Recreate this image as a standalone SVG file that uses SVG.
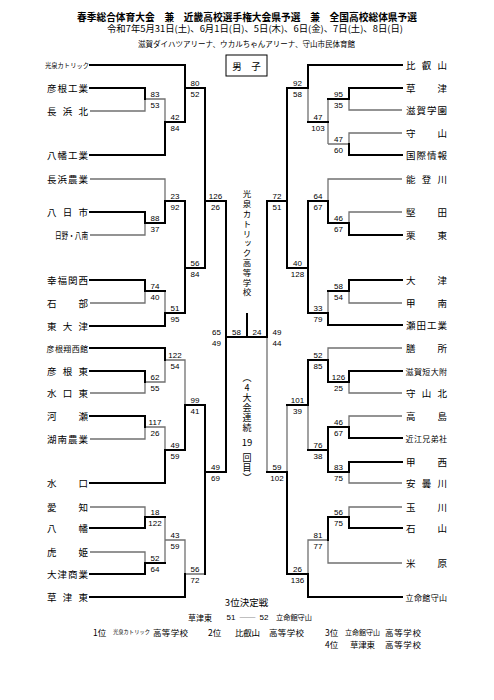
<svg xmlns="http://www.w3.org/2000/svg" width="494" height="700" viewBox="0 0 494 700">
<style>
text{font-family:"Noto Sans CJK JP","Noto Sans CJK SC",sans-serif;fill:#000}
.tn{font-size:9.5px;dominant-baseline:central}
.sm{font-size:8px;dominant-baseline:central}
.n{font-family:"Liberation Sans",Arial,sans-serif;font-size:8px;text-anchor:middle}
.w{stroke:#000;stroke-width:2;fill:none;stroke-linecap:square}
.l{stroke:#707070;stroke-width:1.3;fill:none}
.v{writing-mode:vertical-rl}
.r{font-size:8.5px;dominant-baseline:central}
</style>
<rect width="494" height="700" fill="#fff"/>
<g id="header">
<text x="247" y="16" font-size="10.5" font-weight="bold" text-anchor="middle" dominant-baseline="central" textLength="340" lengthAdjust="spacingAndGlyphs">春季総合体育大会　兼　近畿高校選手権大会県予選　兼　全国高校総体県予選</text>
<text x="255" y="28.5" font-size="9" text-anchor="middle" dominant-baseline="central" textLength="296" lengthAdjust="spacingAndGlyphs">令和7年5月31日(土)、6月1日(日)、5日(木)、6日(金)、7日(土)、8日(日)</text>
<text x="246.5" y="43.5" font-size="7.5" text-anchor="middle" dominant-baseline="central" textLength="217" lengthAdjust="spacingAndGlyphs">滋賀ダイハツアリーナ、ウカルちゃんアリーナ、守山市民体育館</text>
</g>
<g id="title-box">
<rect x="226" y="55" width="41" height="21" fill="none" stroke="#000" stroke-width="1"/>
<text x="246.5" y="65.5" font-size="9.5" text-anchor="middle" dominant-baseline="central">男　子</text>
</g>
<g id="connectors">
<path class="l" d="M90 111H145V99H165V122M90 179H165V201M90 235H145V223M90 303H145V291M165 291V313M90 393H145V382H165V360H185V405M90 439H145V427H165V450M90 507H145V517M165 517V563M90 552H145V563M165 540H185V574H205"/>
<path class="l" d="M402 110H349V99M328 99V144M402 133H349V144H328M308 122V88M402 179H328V201M402 212H349V223M402 303H349V291M328 291V313M402 348H328V360M402 393H349V382M402 416H349V427M402 483H349V472M308 405V450M287 405V472M267 337V472M402 507H349V517M402 563H328V540H308V574"/>
<path class="w" d="M90 65H185V88H205V268M90 88H145V99M90 155H165V122H185V88M90 212H145V223H165V201H185V268M90 280H145V291H165M90 326H165V313H185V268H205M205 201H226V472M90 348H165V360M90 371H145V382M185 405H205V574M90 416H145V427M90 483H165V450H185V405M205 472H226M90 528H145V517H165M90 574H145V563H165M90 597H185V574"/>
<path class="w" d="M402 65H308V88H287V268M402 88H349V99H328M402 155H349V144M328 122H308M402 235H349V223H328V201H308V313H328V325H402M402 280H349V291H328M308 268H287M287 201H267V337M328 360H308V405H287M402 371H349V382H328V360M402 438H349V427H328V472H349V462H402M328 450H308M287 472H267M402 528H349V517H328V540M402 597H308V574H287V472"/>
<path class="w" d="M226 337H267M247 314V337"/>
</g>
<g id="scores">
<text class="n" x="155" y="97">83</text><text class="n" x="155" y="107.5">53</text>
<text class="n" x="175" y="120">42</text><text class="n" x="175" y="130.5">84</text>
<text class="n" x="195" y="86">80</text><text class="n" x="195" y="96.5">52</text>
<text class="n" x="155" y="221">88</text><text class="n" x="155" y="231.5">37</text>
<text class="n" x="175" y="199">23</text><text class="n" x="175" y="209.5">92</text>
<text class="n" x="155" y="289">74</text><text class="n" x="155" y="299.5">40</text>
<text class="n" x="175" y="311">51</text><text class="n" x="175" y="321.5">95</text>
<text class="n" x="195" y="266">56</text><text class="n" x="195" y="276.5">84</text>
<text class="n" x="215.5" y="199">126</text><text class="n" x="215.5" y="209.5">26</text>
<text class="n" x="155" y="380">62</text><text class="n" x="155" y="390.5">55</text>
<text class="n" x="175" y="358">122</text><text class="n" x="175" y="368.5">54</text>
<text class="n" x="155" y="425">117</text><text class="n" x="155" y="435.5">26</text>
<text class="n" x="175" y="448">49</text><text class="n" x="175" y="458.5">59</text>
<text class="n" x="195" y="403">99</text><text class="n" x="195" y="413.5">41</text>
<text class="n" x="155" y="515">18</text><text class="n" x="155" y="525.5">122</text>
<text class="n" x="155" y="561">52</text><text class="n" x="155" y="571.5">64</text>
<text class="n" x="175" y="538">43</text><text class="n" x="175" y="548.5">59</text>
<text class="n" x="195" y="572">56</text><text class="n" x="195" y="582.5">72</text>
<text class="n" x="215.5" y="470">49</text><text class="n" x="215.5" y="480.5">69</text>
<text class="n" x="216.5" y="335">65</text><text class="n" x="216.5" y="345.5">49</text>
<text class="n" x="236.5" y="335">58</text><text class="n" x="257" y="335">24</text>
<text class="n" x="277" y="335">49</text><text class="n" x="277" y="345.5">44</text>
<text class="n" x="338.5" y="97">95</text><text class="n" x="338.5" y="107.5">35</text>
<text class="n" x="338.5" y="142">47</text><text class="n" x="338.5" y="152.5">60</text>
<text class="n" x="318" y="120">47</text><text class="n" x="318" y="130.5">103</text>
<text class="n" x="297.5" y="86">92</text><text class="n" x="297.5" y="96.5">58</text>
<text class="n" x="318" y="199">64</text><text class="n" x="318" y="209.5">67</text>
<text class="n" x="338.5" y="221">46</text><text class="n" x="338.5" y="231.5">67</text>
<text class="n" x="338.5" y="289">58</text><text class="n" x="338.5" y="299.5">54</text>
<text class="n" x="318" y="311">33</text><text class="n" x="318" y="321.5">79</text>
<text class="n" x="297.5" y="266">40</text><text class="n" x="297.5" y="276.5">128</text>
<text class="n" x="277" y="199">72</text><text class="n" x="277" y="209.5">51</text>
<text class="n" x="318" y="358">52</text><text class="n" x="318" y="368.5">85</text>
<text class="n" x="338.5" y="380">126</text><text class="n" x="338.5" y="390.5">25</text>
<text class="n" x="338.5" y="425">46</text><text class="n" x="338.5" y="435.5">67</text>
<text class="n" x="318" y="448">76</text><text class="n" x="318" y="458.5">38</text>
<text class="n" x="338.5" y="470">83</text><text class="n" x="338.5" y="480.5">75</text>
<text class="n" x="297.5" y="403">101</text><text class="n" x="297.5" y="413.5">39</text>
<text class="n" x="277" y="470">59</text><text class="n" x="277" y="480.5">102</text>
<text class="n" x="338.5" y="515">56</text><text class="n" x="338.5" y="525.5">75</text>
<text class="n" x="318" y="538">81</text><text class="n" x="318" y="548.5">77</text>
<text class="n" x="297.5" y="572">26</text><text class="n" x="297.5" y="582.5">136</text>
</g>
<g id="left-teams">
<g id="t-kosen"><text x="45" y="65" font-size="6.3" dominant-baseline="central" textLength="44" lengthAdjust="spacingAndGlyphs">光泉カトリック</text></g>
<g id="t-hikonekogyo"><text class="tn" x="47" y="88" textLength="41">彦根工業</text></g>
<g id="t-nagahamakita"><text class="tn" x="47" y="111" textLength="41">長浜北</text></g>
<g id="t-hachimankogyo"><text class="tn" x="47" y="155" textLength="41">八幡工業</text></g>
<g id="t-nagahamanogyo"><text class="tn" x="47" y="179" textLength="41">長浜農業</text></g>
<g id="t-yokaichi"><text class="tn" x="47" y="212" textLength="41">八日市</text></g>
<g id="t-hino"><text x="55" y="235" font-size="9" dominant-baseline="central" textLength="33" lengthAdjust="spacingAndGlyphs">日野・八南</text></g>
<g id="t-kofukukansai"><text class="tn" x="47" y="280" textLength="41">幸福関西</text></g>
<g id="t-ishibe"><text class="tn" x="47" y="303" textLength="41">石部</text></g>
<g id="t-higashiotsu"><text class="tn" x="47" y="326" textLength="41">東大津</text></g>
<g id="t-hikoneshoseikan"><text class="sm" x="46.5" y="348" textLength="41.5">彦根翔西館</text></g>
<g id="t-hikonehigashi"><text class="tn" x="47" y="371" textLength="41">彦根東</text></g>
<g id="t-minakuchihigashi"><text class="tn" x="47" y="393" textLength="41">水口東</text></g>
<g id="t-kawase"><text class="tn" x="47" y="416" textLength="41">河瀬</text></g>
<g id="t-konannogyo"><text class="tn" x="47" y="439" textLength="41">湖南農業</text></g>
<g id="t-minakuchi"><text class="tn" x="47" y="483" textLength="41">水口</text></g>
<g id="t-echi"><text class="tn" x="47" y="507" textLength="41">愛知</text></g>
<g id="t-hachiman"><text class="tn" x="47" y="528" textLength="41">八幡</text></g>
<g id="t-torahime"><text class="tn" x="47" y="552" textLength="41">虎姫</text></g>
<g id="t-otsushogyo"><text class="tn" x="47" y="574" textLength="41">大津商業</text></g>
<g id="t-kusatsuhigashi"><text class="tn" x="47" y="597" textLength="41">草津東</text></g>
</g>
<g id="right-teams">
<g id="t-hieizan"><text class="tn" x="406" y="65" textLength="41">比叡山</text></g>
<g id="t-kusatsu"><text class="tn" x="406" y="88" textLength="41">草津</text></g>
<g id="t-shigagakuen"><text class="tn" x="406" y="110" textLength="41">滋賀学園</text></g>
<g id="t-moriyama"><text class="tn" x="406" y="133" textLength="41">守山</text></g>
<g id="t-kokusaijoho"><text class="tn" x="406" y="155" textLength="41">国際情報</text></g>
<g id="t-notogawa"><text class="tn" x="406" y="179" textLength="41">能登川</text></g>
<g id="t-katata"><text class="tn" x="406" y="212" textLength="41">堅田</text></g>
<g id="t-ritto"><text class="tn" x="406" y="235" textLength="41">栗東</text></g>
<g id="t-otsu"><text class="tn" x="406" y="280" textLength="41">大津</text></g>
<g id="t-konan"><text class="tn" x="406" y="303" textLength="41">甲南</text></g>
<g id="t-setakogyo"><text class="tn" x="406" y="325" textLength="41">瀬田工業</text></g>
<g id="t-zeze"><text class="tn" x="406" y="348" textLength="41">膳所</text></g>
<g id="t-shigatandai"><text class="sm" x="405.5" y="371" textLength="41.5">滋賀短大附</text></g>
<g id="t-moriyamakita"><text class="tn" x="406" y="393" textLength="41">守山北</text></g>
<g id="t-takashima"><text class="tn" x="406" y="416" textLength="41">高島</text></g>
<g id="t-omikyodaisha"><text class="sm" x="405.5" y="438" textLength="41.5">近江兄弟社</text></g>
<g id="t-kosei"><text class="tn" x="406" y="462" textLength="41">甲西</text></g>
<g id="t-adogawa"><text class="tn" x="406" y="483" textLength="41">安曇川</text></g>
<g id="t-tamagawa"><text class="tn" x="406" y="507" textLength="41">玉川</text></g>
<g id="t-ishiyama"><text class="tn" x="406" y="528" textLength="41">石山</text></g>
<g id="t-maibara"><text class="tn" x="406" y="563" textLength="41">米原</text></g>
<g id="t-ritsumeikan"><text class="sm" x="405.5" y="597" textLength="41.5">立命館守山</text></g>
</g>
<g id="champion">
<text class="v" x="247" y="190" font-size="8.5" letter-spacing="1.3">光泉カトリック高等学校</text>
<text class="v" x="247" y="373" font-size="9" letter-spacing="1" style="text-orientation:upright">（4大会連続</text>
<text x="247" y="442" font-family="Liberation Sans, Arial, sans-serif" font-size="9.5" text-anchor="middle" dominant-baseline="central">19</text>
<text class="v" x="247" y="453" font-size="9" letter-spacing="1">回目）</text>
</g>
<g id="third-place">
<text x="246.5" y="602" font-size="9.5" text-anchor="middle" dominant-baseline="central">3位決定戦</text>
<text x="188" y="617" font-size="8" dominant-baseline="central">草津東</text>
<text class="n" x="231" y="620">51</text>
<text x="239" y="617" font-size="8" dominant-baseline="central" textLength="17" lengthAdjust="spacingAndGlyphs">――</text>
<text class="n" x="264" y="620">52</text>
<text x="276" y="617" font-size="7" dominant-baseline="central" textLength="36" lengthAdjust="spacingAndGlyphs">立命館守山</text>
</g>
<g id="ranking">
<text class="r" x="93" y="632">1位</text>
<text x="113" y="632" font-size="5.5" dominant-baseline="central" textLength="37" lengthAdjust="spacingAndGlyphs">光泉カトリック</text>
<text class="r" x="153" y="632" textLength="35">高等学校</text>
<text class="r" x="208" y="632">2位</text>
<text class="r" x="235" y="632" textLength="25">比叡山</text>
<text class="r" x="269" y="632" textLength="35">高等学校</text>
<text class="r" x="325" y="632">3位</text>
<text x="345" y="632" font-size="7" dominant-baseline="central" textLength="35" lengthAdjust="spacingAndGlyphs">立命館守山</text>
<text class="r" x="385" y="632" textLength="36">高等学校</text>
<text class="r" x="325" y="644">4位</text>
<text class="r" x="350" y="644" textLength="25">草津東</text>
<text class="r" x="385" y="644" textLength="36">高等学校</text>
</g>
</svg>
